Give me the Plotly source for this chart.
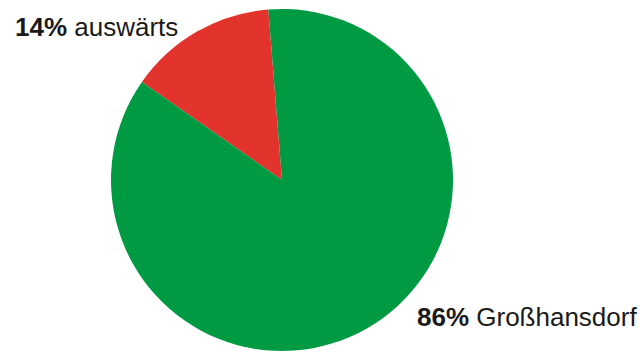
import plotly.graph_objects as go

# Share of residents by place of work
categories = ["auswärts", "Großhansdorf"]
shares = [14, 86]
colors = ["#E2332C", "#009A43"]

W, H = 640, 357

fig = go.Figure(
    go.Pie(
        labels=categories,
        values=shares,
        sort=False,
        direction="clockwise",
        rotation=-55,
        marker=dict(colors=colors, line=dict(width=0)),
        textinfo="none",
        hoverinfo="label+percent",
        showlegend=False,
        domain=dict(x=[(282 - 171) / W, (282 + 171) / W],
                    y=[1 - 351 / H, 1 - 9 / H]),
    )
)

font = dict(family="Liberation Sans, Arial, sans-serif", size=26, color="#1a1a1a")
label_pos = [
    (13 / W, 1 - 27 / H),    # auswärts
    (415 / W, 1 - 317 / H),  # Großhansdorf
]
for cat, val, (x, y) in zip(categories, shares, label_pos):
    fig.add_annotation(
        text=f"<b>{val}%</b> {cat}",
        x=x, y=y, xref="paper", yref="paper",
        xanchor="left", yanchor="middle",
        showarrow=False, font=font,
    )

fig.update_layout(
    width=W, height=H,
    margin=dict(l=0, r=0, t=0, b=0),
    paper_bgcolor="white",
    plot_bgcolor="white",
)

fig.write_html("out.html")
